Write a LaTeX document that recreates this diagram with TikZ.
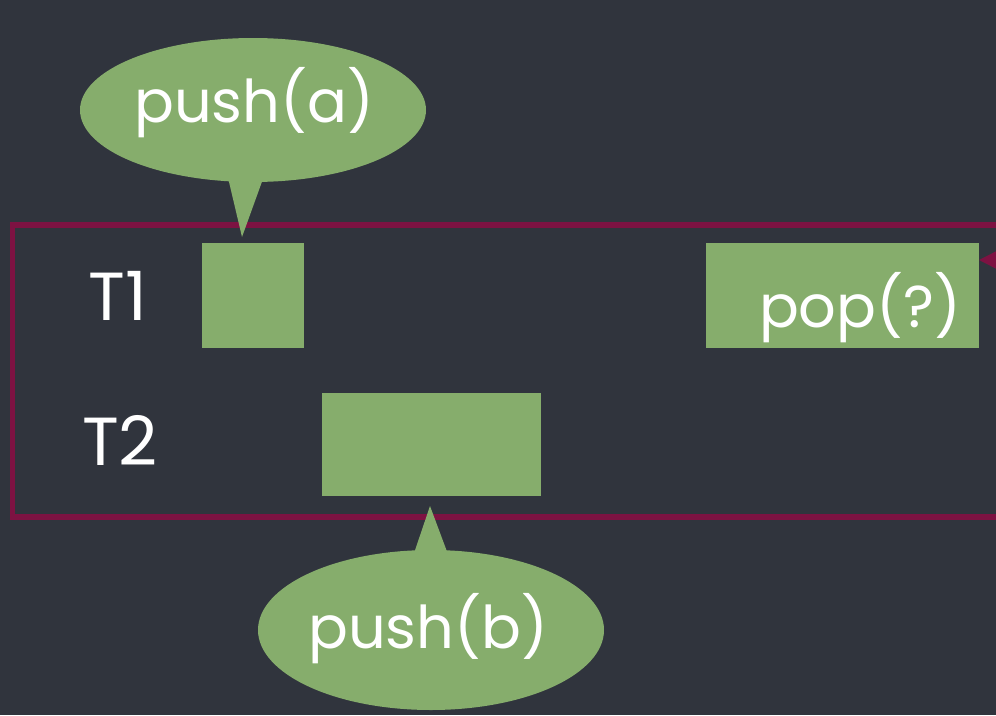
\documentclass[tikz,border=0pt]{standalone}
\usepackage{fontspec}
\setmainfont{Poppins}
\usetikzlibrary{shapes.geometric,arrows.meta}
\definecolor{board}{HTML}{30343D}
\definecolor{chalkgreen}{HTML}{86AD6C}
\definecolor{framered}{HTML}{7D1242}
\tikzset{
  greenbox/.style={fill=chalkgreen, draw=none, inner sep=0pt, anchor=north west},
  bubble/.style={ellipse, fill=chalkgreen, draw=none, inner sep=0pt},
  chalktext/.style={text=white, font=\fontsize{59}{66}\selectfont, anchor=base, inner sep=0pt},
  labeltext/.style={text=white, font=\fontsize{68}{74}\selectfont, anchor=base, inner sep=0pt},
}
\begin{document}
\begin{tikzpicture}[x=1pt,y=-1pt]
\fill[board] (0,0) rectangle (996,715);
\useasboundingbox (0,0) rectangle (996,715);
\begin{scope}
\clip (0,0) rectangle (996,715);
% frame
\draw[framered, line width=5.5pt] (12.5,225) rectangle (1010,517);
% boxes
\node[greenbox, minimum width=102, minimum height=105] (b1) at (202,243) {};
\node[greenbox, minimum width=273, minimum height=105] (popbox) at (706,243) {};
\node[greenbox, minimum width=219, minimum height=103] (b2) at (322,393) {};
% incoming arrow to pop box
\coordinate (offr) at (1040,260);
\coordinate (popin) at (979,260);
\draw[framered, line width=2pt, -{Triangle[length=22pt,width=22pt]}] (offr) -- (popin);
% bubbles
\node[bubble, minimum width=346, minimum height=144] (ea) at (253,110) {};
\coordinate (tipA) at (242,237);
\fill[chalkgreen] (225,165) -- (tipA) -- (268,165) -- cycle;
\node[bubble, minimum width=346, minimum height=160] (eb) at (431,630) {};
\coordinate (tipB) at (430,506);
\fill[chalkgreen] (410,565) -- (tipB) -- (452,565) -- cycle;
% texts
\node[chalktext] (ta) at (254,122) {push(a)};
\node[chalktext] (tb) at (428,648) {push(b)};
\node[chalktext] (tp) at (860,327) {pop(?)};
\node[labeltext] (t1) at (118,320) {T1};
\node[labeltext] (t2) at (120,465) {T2};
\end{scope}
\end{tikzpicture}
\end{document}
